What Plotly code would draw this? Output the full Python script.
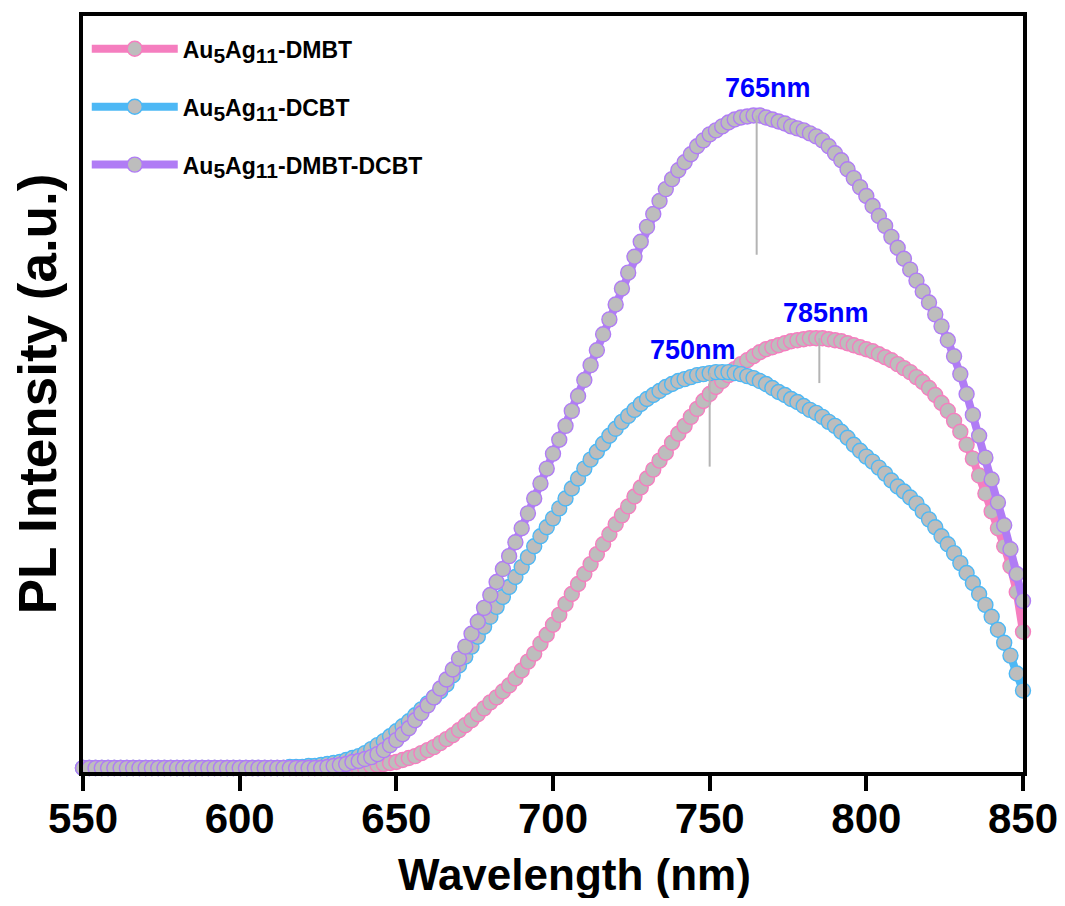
import plotly.graph_objects as go

# ---------------- data ----------------
wavelength = list(range(550, 851, 2))  # nm sampling grid

au5ag11_dmbt = [
    3, 3, 3, 3, 3, 3, 3, 3, 3, 3, 3, 3, 3, 3, 3, 3, 3, 3, 3, 3, 3, 3, 3,
    3, 3, 3, 3, 3, 3, 3, 3, 3, 3, 3, 3, 3, 3, 3, 3, 3, 3, 3, 3, 3, 3, 3,
    5, 6, 7, 8, 9,
    11, 13, 15, 18, 21,
    24, 28, 32, 36, 41,
    46, 51, 57, 63, 69,
    74, 80, 86, 93, 101,
    110, 118, 128, 137, 147,
    157, 168, 178, 188, 198,
    208, 218, 228, 238, 248,
    257, 266, 276, 285, 294,
    303, 312, 320, 330, 339,
    347, 356, 364, 372, 379,
    386, 392, 398, 404, 409,
    413, 417, 421, 424, 426,
    428, 430, 432, 433, 434,
    435, 435, 435, 434, 433,
    432, 430, 428, 426, 424,
    422, 419, 416, 413, 409,
    405, 401, 396, 391, 385,
    378, 370, 362, 352, 341,
    328, 314, 297, 279, 261,
    244, 226, 206, 180, 140,
]

au5ag11_dcbt = [
    3, 3, 3, 3, 3, 3, 3, 3, 3, 3, 3, 3, 3, 3, 3, 3,
    3, 3, 3, 3, 3, 3, 3, 3, 3, 3, 3, 3, 3, 3, 3, 3,
    3, 4, 4, 4,
    5, 5, 6, 7, 8,
    9, 11, 13, 15, 18,
    22, 26, 30, 35, 40,
    45, 50, 56, 62, 68,
    74, 80, 87, 96, 106,
    115, 125, 135, 145, 155,
    165, 175, 185, 195, 205,
    215, 226, 236, 245, 254,
    264, 274, 284, 294, 304,
    313, 321, 329, 337, 344,
    351, 357, 363, 369, 374,
    378, 382, 386, 389, 392,
    394, 396, 398, 399, 400,
    401, 401, 401, 400, 399,
    397, 395, 392, 389, 385,
    381, 378, 374, 371, 367,
    363, 360, 356, 351, 347,
    341, 335, 328, 322, 316,
    311, 305, 299, 292, 286,
    281, 275, 269, 261, 253,
    245, 236, 228, 219, 209,
    199, 189, 178, 167, 155,
    142, 129, 116, 98, 81,
]

au5ag11_dmbt_dcbt = [
    3, 3, 3, 3, 3, 3, 3, 3, 3, 3, 3, 3, 3, 3, 3, 3, 3, 3, 3, 3,
    3, 3, 3, 3, 3, 3, 3, 3, 3, 3, 3, 3, 3, 3, 3, 3, 3, 3, 3,
    4, 5,
    6, 7, 9, 10, 12,
    14, 17, 21, 26, 31,
    37, 43, 51, 58, 66,
    74, 83, 92, 102, 113,
    125, 138, 150, 164, 177,
    190, 203, 216, 230, 244,
    259, 274, 289, 304, 319,
    333, 347, 362, 377, 393,
    408, 423, 439, 454, 469,
    485, 501, 517, 532, 547,
    560, 573, 585, 595, 604,
    612, 620, 628, 634, 640,
    644, 648, 652, 655, 657,
    658, 659, 659, 657, 655,
    653, 651, 648, 646, 644,
    641, 638, 634, 628, 621,
    614, 605, 596, 587, 578,
    568, 558, 548, 537, 526,
    515, 504, 493, 482, 471,
    459, 447, 433, 417, 399,
    379, 358, 337, 315, 293,
    270, 247, 223, 198, 171,
]

SUB = "<sub><span style='font-size:21px'>{}</span></sub>"
series_names = [
    "Au" + SUB.format("5") + "Ag" + SUB.format("11") + "-DMBT",
    "Au" + SUB.format("5") + "Ag" + SUB.format("11") + "-DCBT",
    "Au" + SUB.format("5") + "Ag" + SUB.format("11") + "-DMBT-DCBT",
]
series_values = [au5ag11_dmbt, au5ag11_dcbt, au5ag11_dmbt_dcbt]

peak_nm = [785, 750, 765]
peak_labels = ["785nm", "750nm", "765nm"]

x_ticks = [550, 600, 650, 700, 750, 800, 850]
x_title = "Wavelength (nm)"
y_title = "PL Intensity (a.u.)"

# ---------------- styles ----------------
colors = ["#F57EBF", "#4DB8F5", "#B07CF5"]
marker_fill = "#BDBDBD"
font_family = "Liberation Sans, Arial, sans-serif"
label_xshift = [7, -17, 11]
label_yshift = [25, 23, 27]
stem_drop = [45, 94, 140]

fig = go.Figure()
for i, (name, vals) in enumerate(zip(series_names, series_values)):
    fig.add_trace(go.Scatter(
        x=wavelength, y=vals, name=name, mode="lines+markers",
        legendgroup=f"g{i}",
        line=dict(color=colors[i], width=8),
        marker=dict(size=15, color=marker_fill,
                    line=dict(color=colors[i], width=1.4)),
        cliponaxis=False,
    ))


def value_at(vals, nm):
    idx = min(range(len(wavelength)), key=lambda k: abs(wavelength[k] - nm))
    return vals[idx]


# peak stems and labels
for i, (nm, lab) in enumerate(zip(peak_nm, peak_labels)):
    pv = value_at(series_values[i], nm)
    fig.add_shape(type="line", x0=nm, x1=nm, y0=pv, y1=pv - stem_drop[i],
                  line=dict(color="#B4B4B4", width=2), layer="above")
    fig.add_annotation(x=nm, y=pv, text=lab, showarrow=False,
                       xshift=label_xshift[i], yshift=label_yshift[i],
                       font=dict(family=font_family, size=27, color="#0000FF",
                                 weight="bold"))

# x-axis title (placed slightly right of centre, as in the reference)
fig.add_annotation(xref="paper", yref="paper", x=0.5234, y=-0.1355,
                   xanchor="center", yanchor="middle", showarrow=False,
                   text=x_title,
                   font=dict(family=font_family, size=44, color="black",
                             weight="bold"))

fig.update_layout(
    width=1057, height=890,
    margin=dict(l=75, r=42, t=4, b=126),
    paper_bgcolor="white", plot_bgcolor="white",
    font=dict(family=font_family, color="black"),
    legend=dict(x=0.004, y=0.985, xanchor="left", yanchor="top",
                bgcolor="rgba(0,0,0,0)", itemwidth=86, tracegroupgap=25,
                font=dict(family=font_family, size=23, color="black",
                          weight="bold")),
    showlegend=True,
)
fig.update_xaxes(
    range=[550, 850], tickvals=x_ticks, ticks="outside", ticklen=15,
    tickwidth=4, tickcolor="black", showline=True, linewidth=4,
    linecolor="black", mirror=True, showgrid=False, zeroline=False,
    ticklabelstandoff=-8, ticklabeloverflow="allow",
    tickfont=dict(family=font_family, size=42, color="black", weight="bold"),
)
fig.update_yaxes(
    range=[-1, 759], showticklabels=False, ticks="", showline=True,
    linewidth=4, linecolor="black", mirror=True, showgrid=False,
    zeroline=False,
    title=dict(text=y_title, standoff=22,
               font=dict(family=font_family, size=53, color="black",
                         weight="bold")),
)

fig.write_html("out.html")
